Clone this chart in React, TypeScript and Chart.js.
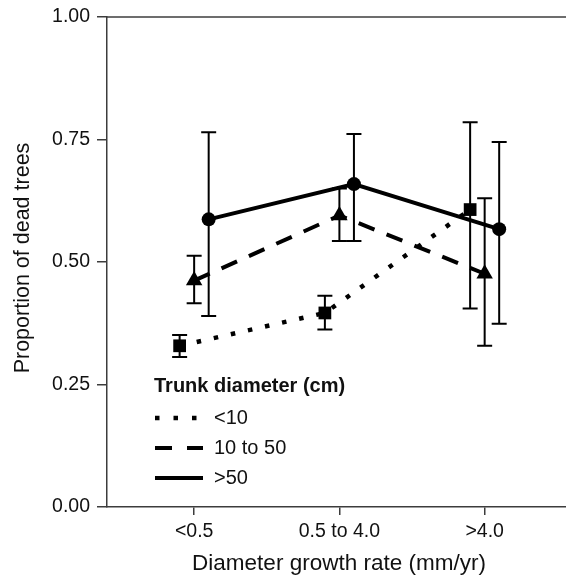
import React, { useEffect, useRef } from "react";
import { Chart, registerables } from "chart.js";

Chart.register(...registerables);

// ---- data ----
const categories = ["<0.5", "0.5 to 4.0", ">4.0"];
const seriesNames = ["<10", "10 to 50", ">50"];
const smallValues = [0.329, 0.396, 0.607];
const smallLow = [0.306, 0.362, 0.405];
const smallHigh = [0.351, 0.431, 0.785];
const mediumValues = [0.462, 0.595, 0.476];
const mediumLow = [0.416, 0.543, 0.329];
const mediumHigh = [0.513, 0.65, 0.63];
const largeValues = [0.587, 0.659, 0.567];
const largeLow = [0.39, 0.543, 0.374];
const largeHigh = [0.765, 0.761, 0.745];
const yTicks = [0, 0.25, 0.5, 0.75, 1];
const legendTitle = "Trunk diameter (cm)";
const xTitle = "Diameter growth rate (mm/yr)";
const yTitle = "Proportion of dead trees";

const FONT = '"Liberation Sans", Arial, Helvetica, sans-serif';
const AXIS_COLOR = "#3c3c3c";
const DODGE = 0.1;

const toPoints = (vals: number[], offset: number) =>
  vals.map((v, i) => ({ x: i + 1 + offset, y: v }));

const errorBarPlugin = {
  id: "errorBars",
  afterDatasetsDraw(chart: any, _args: any, opts: any) {
    const { ctx } = chart;
    const x = chart.scales.x;
    const y = chart.scales.y;
    ctx.save();
    ctx.strokeStyle = "#000";
    ctx.lineWidth = 2;
    ctx.setLineDash([]);
    chart.data.datasets.forEach((ds: any, i: number) => {
      const lows = opts.lows[i];
      const highs = opts.highs[i];
      ds.data.forEach((pt: any, j: number) => {
        const px = x.getPixelForValue(pt.x);
        const pl = y.getPixelForValue(lows[j]);
        const ph = y.getPixelForValue(highs[j]);
        ctx.beginPath();
        ctx.moveTo(px, pl);
        ctx.lineTo(px, ph);
        ctx.moveTo(px - 7.5, pl);
        ctx.lineTo(px + 7.5, pl);
        ctx.moveTo(px - 7.5, ph);
        ctx.lineTo(px + 7.5, ph);
        ctx.stroke();
      });
    });
    ctx.restore();
  },
};

const decorPlugin = {
  id: "decor",
  afterDraw(chart: any) {
    const { ctx, chartArea } = chart;
    ctx.save();
    // top frame line
    ctx.strokeStyle = AXIS_COLOR;
    ctx.lineWidth = 1.5;
    ctx.beginPath();
    ctx.moveTo(chartArea.left, chartArea.top);
    ctx.lineTo(chartArea.right, chartArea.top);
    ctx.stroke();

    // axis titles
    ctx.fillStyle = "#111";
    ctx.font = `22.5px ${FONT}`;
    ctx.textAlign = "center";
    ctx.textBaseline = "middle";
    ctx.fillText(xTitle, 339, 564);
    ctx.font = `21.5px ${FONT}`;
    ctx.save();
    ctx.translate(23, 258);
    ctx.rotate(-Math.PI / 2);
    ctx.fillText(yTitle, 0, 0);
    ctx.restore();

    // legend
    const lx = 155;
    ctx.textAlign = "left";
    ctx.font = `bold 20px ${FONT}`;
    ctx.fillText(legendTitle, 154, 386);
    ctx.font = `20px ${FONT}`;
    const rows = [418, 448, 478];
    chart.data.datasets.forEach((ds: any, i: number) => {
      const ry = rows[i];
      ctx.strokeStyle = "#000";
      ctx.lineWidth = ds.borderWidth;
      ctx.setLineDash(ds.legendDash || []);
      ctx.beginPath();
      ctx.moveTo(lx, ry);
      ctx.lineTo(lx + 48, ry);
      ctx.stroke();
      ctx.setLineDash([]);
      ctx.fillText(ds.label, 214, ry);
    });
    ctx.restore();
  },
};

export default function App() {
  const ref = useRef<HTMLCanvasElement | null>(null);

  useEffect(() => {
    document.body.style.margin = "0";
    const canvas = ref.current;
    if (!canvas) return;
    const chart = new Chart(canvas, {
      type: "line",
      data: {
        datasets: [
          {
            label: seriesNames[0],
            data: toPoints(smallValues, -DODGE),
            borderColor: "#000",
            backgroundColor: "#000",
            borderWidth: 4.5,
            borderDash: [4.5, 13],
            legendDash: [4.5, 14],
            pointStyle: "rect",
            pointRadius: 9,
            pointBorderWidth: 0,
            pointBackgroundColor: "#000",
          } as any,
          {
            label: seriesNames[1],
            data: toPoints(mediumValues, 0),
            borderColor: "#000",
            backgroundColor: "#000",
            borderWidth: 4,
            borderDash: [17, 13],
            legendDash: [17, 15],
            pointStyle: "triangle",
            pointRadius: 9.5,
            pointBorderWidth: 0,
            pointBackgroundColor: "#000",
          } as any,
          {
            label: seriesNames[2],
            data: toPoints(largeValues, DODGE),
            borderColor: "#000",
            backgroundColor: "#000",
            borderWidth: 4,
            pointStyle: "circle",
            pointRadius: 7,
            pointBorderWidth: 0,
            pointBackgroundColor: "#000",
          } as any,
        ],
      },
      options: {
        responsive: false,
        animation: false,
        events: [],
        layout: { autoPadding: false, padding: { top: 17, right: 0, left: 0, bottom: 0 } },
        plugins: {
          legend: { display: false },
          tooltip: { enabled: false },
          title: { display: false },
          errorBars: {
            lows: [smallLow, mediumLow, largeLow],
            highs: [smallHigh, mediumHigh, largeHigh],
          },
        } as any,
        scales: {
          x: {
            type: "linear",
            min: 0.4,
            max: 3.56,
            afterFit: (s: any) => {
              s.height = 69;
              s.paddingRight = 0;
              s.paddingLeft = 0;
            },
            afterBuildTicks: (s: any) => {
              s.ticks = categories.map((_c, i) => ({ value: i + 1 }));
            },
            ticks: {
              callback: (v: any) => categories[Math.round(Number(v)) - 1] ?? "",
              font: { family: FONT, size: 19.5 },
              color: "#111",
              padding: 5,
              maxRotation: 0,
              autoSkip: false,
            },
            grid: {
              display: true,
              drawOnChartArea: false,
              drawTicks: true,
              tickLength: 8,
              color: AXIS_COLOR,
              lineWidth: 1.5,
            },
            border: { display: true, color: AXIS_COLOR, width: 1.5 },
          },
          y: {
            type: "linear",
            min: 0,
            max: 1,
            afterFit: (s: any) => {
              s.width = 107;
              s.paddingTop = 0;
              s.paddingBottom = 0;
            },
            afterBuildTicks: (s: any) => {
              s.ticks = yTicks.map((v) => ({ value: v }));
            },
            ticks: {
              callback: (v: any) => Number(v).toFixed(2),
              font: { family: FONT, size: 19.5 },
              color: "#111",
              padding: 7,
            },
            grid: {
              display: true,
              drawOnChartArea: false,
              drawTicks: true,
              tickLength: 10,
              color: AXIS_COLOR,
              lineWidth: 1.5,
            },
            border: { display: true, color: AXIS_COLOR, width: 1.5 },
          },
        },
      },
      plugins: [errorBarPlugin, decorPlugin],
    } as any);
    return () => chart.destroy();
  }, []);

  return (
    <div style={{ width: 566, height: 576 }}>
      <canvas ref={ref} width={566} height={576} style={{ width: 566, height: 576, display: "block" }} />
    </div>
  );
}
